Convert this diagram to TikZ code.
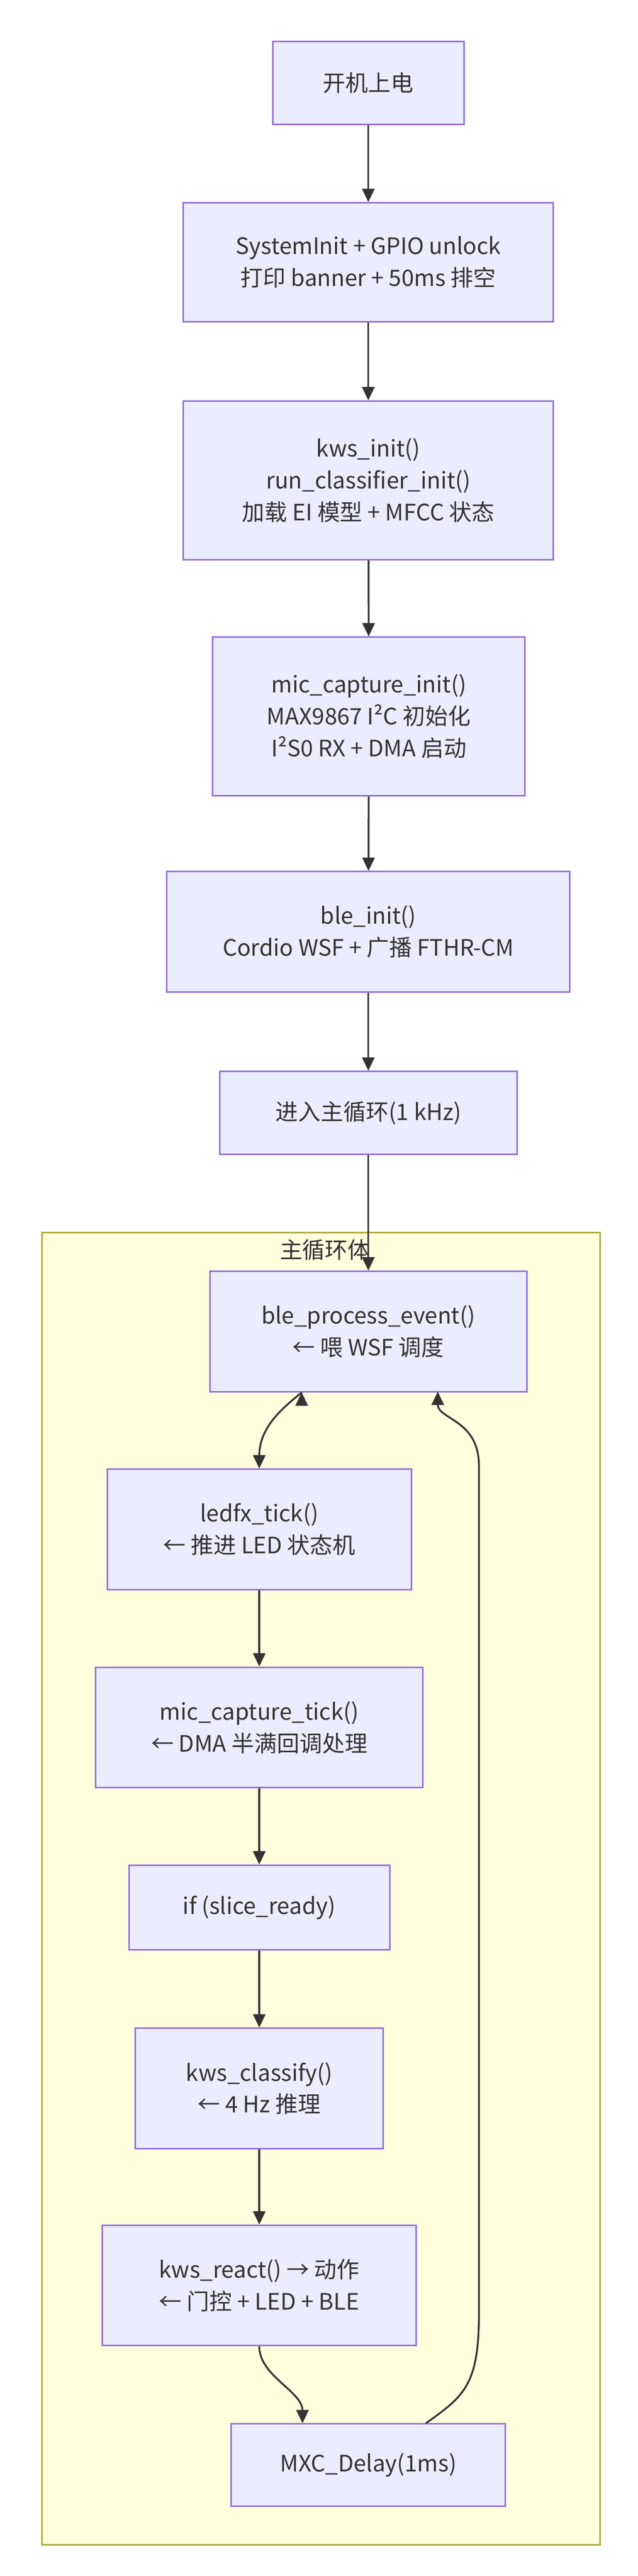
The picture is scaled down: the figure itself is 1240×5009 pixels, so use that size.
\documentclass[tikz,border=0pt]{standalone}
\usepackage{fontspec}
\setmainfont{Noto Sans CJK SC}
\usetikzlibrary{arrows.meta}
\definecolor{nfill}{HTML}{ECECFF}
\definecolor{nline}{HTML}{9370DB}
\definecolor{cfill}{HTML}{FFFFDE}
\definecolor{cline}{HTML}{AAAA33}
\definecolor{eline}{HTML}{333333}
\begin{document}
\begin{tikzpicture}[x=1pt,y=-1pt,
  box/.style={draw=nline,fill=nfill,line width=3pt,align=center,inner sep=0pt,
    font=\fontsize{44}{62}\selectfont,text=eline},
  edge/.style={draw=eline,line width=3.5pt,-{Triangle[length=26pt,width=24pt]}}]
\useasboundingbox (0,0) rectangle (1240,5009);
\fill[white] (0,0) rectangle (1240,5009);
\node[draw=cline,fill=cfill,line width=3pt,minimum width=1085pt,minimum height=2552pt,anchor=north west,inner sep=0pt] (cl) at (80,2395) {};
\node[font=\fontsize{44}{52}\selectfont,text=eline] (clt) at (632,2430) {主循环体};
\node[box,minimum width=372pt,minimum height=161pt] (n1) at (716,161) {开机上电};
\node[box,minimum width=719pt,minimum height=231pt] (n2) at (716,510) {SystemInit + GPIO unlock\\打印 banner + 50ms 排空};
\node[box,minimum width=719pt,minimum height=308pt] (n3) at (716,934) {kws\_init()\\run\_classifier\_init()\\加载 EI 模型 + MFCC 状态};
\node[box,minimum width=607pt,minimum height=308pt] (n4) at (717,1393) {mic\_capture\_init()\\MAX9867 I²C 初始化\\I²S0 RX + DMA 启动};
\node[box,minimum width=783pt,minimum height=234pt] (n5) at (716,1812) {ble\_init()\\Cordio WSF + 广播 FTHR-CM};
\node[box,minimum width=578pt,minimum height=161pt] (n6) at (716,2164) {进入主循环(1 kHz)};
\node[box,minimum width=616pt,minimum height=234pt] (n7) at (716,2589) {ble\_process\_event()\\← 喂 WSF 调度};
\node[box,minimum width=591pt,minimum height=234pt] (n8) at (504,2974) {ledfx\_tick()\\← 推进 LED 状态机};
\node[box,minimum width=636pt,minimum height=234pt] (n9) at (504,3359) {mic\_capture\_tick()\\← DMA 半满回调处理};
\node[box,minimum width=507pt,minimum height=164pt] (n10) at (504,3709) {if (slice\_ready)};
\node[box,minimum width=482pt,minimum height=234pt] (n11) at (504,4061) {kws\_classify()\\← 4 Hz 推理};
\node[box,minimum width=610pt,minimum height=234pt] (n12) at (504,4444) {kws\_react() → 动作\\← 门控 + LED + BLE};
\node[box,minimum width=533pt,minimum height=161pt] (n13) at (716,4793) {MXC\_Delay(1ms)};
\draw[edge] (n1) -- (n2);
\draw[edge] (n2) -- (n3);
\draw[edge] (n3) -- (n4);
\draw[edge] (n4) -- (n5);
\draw[edge] (n5) -- (n6);
\draw[edge] (n6) -- (n7);
\draw[edge] (n7.south west) ++(180,0) coordinate (a1);
\draw[edge] (a1) .. controls (560,2730) and (504,2770) .. (n8.north);
\draw[edge] (n8) -- (n9);
\draw[edge] (n9) -- (n10);
\draw[edge] (n10) -- (n11);
\draw[edge] (n11) -- (n12);
\coordinate (a2) at (588,4712);
\draw[edge] (n12.south) .. controls (504,4620) and (588,4650) .. (a2);
\coordinate (b1) at (828,4712);
\coordinate (b2) at (851,2706);
\draw[edge] (b1) .. controls (900,4660) and (931,4640) .. (931,4500) -- (931,2850) .. controls (931,2760) and (851,2760) .. (b2);
\end{tikzpicture}
\end{document}
